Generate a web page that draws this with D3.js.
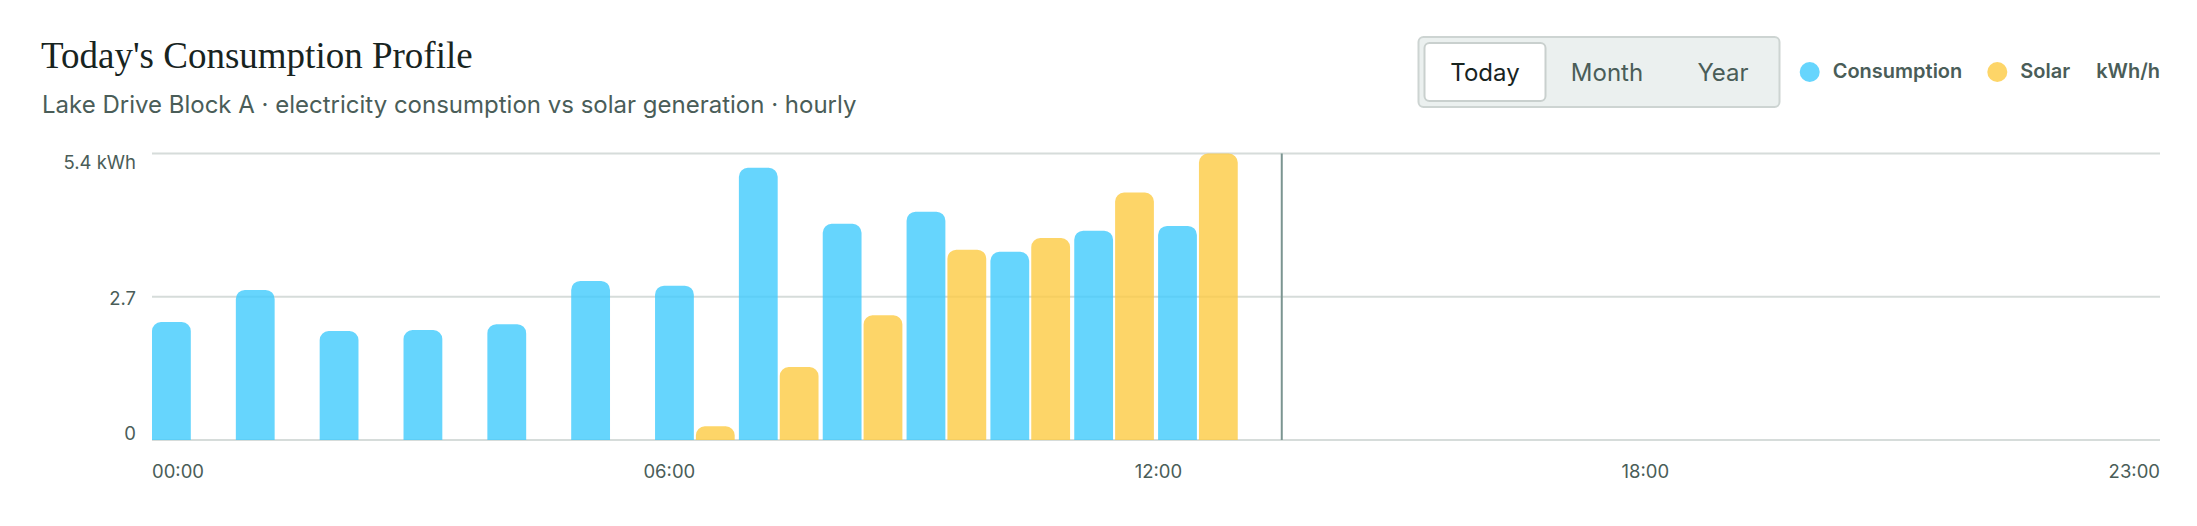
<!DOCTYPE html>
<html>
<head>
<meta charset="utf-8">
<script src="https://cdn.jsdelivr.net/npm/d3@7/dist/d3.min.js"></script>
<style>
  html, body { margin: 0; padding: 0; background: #ffffff; }
  svg { display: block; }
  text { font-family: Inter, "Noto Sans", sans-serif; }
</style>
</head>
<body>
<svg id="chart" width="2197" height="526"></svg>
<script>
// -----------------------------------------------------------------------------

var hours = [
  '00', '01', '02', '03', '04', '05', '06', '07', '08', '09', '10', '11',
  '12', '13', '14', '15', '16', '17', '18', '19', '20', '21', '22', '23'
];
var consumption = [
  2.23, 2.84, 2.06, 2.08, 2.19, 3.01, 2.92, 5.15, 4.09, 4.32, 3.56, 3.96, 4.05
];
var solar = [
  null, null, null, null, null, null, 0.26, 1.38, 2.36, 3.60, 3.82, 4.68, 5.42
];
var nowHour = '13';
var xTickLabels = ['00:00', '06:00', '12:00', '18:00', '23:00'];
var seriesKeys = ['consumption', 'solar'];
var seriesLabels = ['Consumption', 'Solar'];
var unitLabel = 'kWh/h';
var yUnit = 'kWh';
var toggleOptions = ['Today', 'Month', 'Year'];
var activeOption = 'Today';

var titleText = "Today's Consumption Profile";
var subtitleText =
  'Lake Drive Block A \u00b7 electricity consumption vs solar generation \u00b7 hourly';

// -----------------------------------------------------------------------------

var colors = { consumption: '#40cafc', solar: '#fcca42' };
var barOpacity = 0.8;
var textColor = '#4a5d58';
var darkColor = '#18241f';
var gridColor = '#d6dcda';

var plot = { left: 152, right: 2160, top: 153.5, bottom: 440 };

var svg = d3.select('#chart');

// - - - - - - - - - - - - - - - - - - - - - - - - - - - - - - - - - - - - - -

var rows = hours.map(function (h, i) {
  return {
    hour: h,
    consumption: i < consumption.length ? consumption[i] : null,
    solar: i < solar.length ? solar[i] : null
  };
});

var x = d3.scaleBand()
  .domain(hours)
  .range([plot.left, plot.right])
  .paddingInner(0.05)
  .paddingOuter(0);

var xInner = d3.scaleBand()
  .domain(seriesKeys)
  .range([0, x.bandwidth()])
  .paddingInner(0.05);

var yMax = d3.max(consumption.concat(solar));
var y = d3.scaleLinear()
  .domain([0, yMax])
  .range([plot.bottom, plot.top]);

var yTicks = [0, yMax / 2, yMax];

// - - - - - - - - - - - - - - - - - - - - - - - - - - - - - - - - - - - - - -
// header

svg.append('text')
  .attr('x', 41)
  .attr('y', 68)
  .style('font-family', '"Liberation Serif", "DejaVu Serif", serif')
  .style('font-size', '37px')
  .attr('fill', darkColor)
  .text(titleText);

svg.append('text')
  .attr('x', 42)
  .attr('y', 113)
  .style('font-size', '24px')
  .attr('fill', textColor)
  .text(subtitleText);

// - - - - - - - - - - - - - - - - - - - - - - - - - - - - - - - - - - - - - -
// toggle

var gToggle = svg.append('g').attr('class', 'toggle');

gToggle.append('rect')
  .attr('x', 1418.5)
  .attr('y', 37)
  .attr('width', 361)
  .attr('height', 70)
  .attr('rx', 5)
  .attr('fill', '#ebf0ef')
  .attr('stroke', '#cdd4d2')
  .attr('stroke-width', 2);

var toggleCenters = [1485, 1607, 1723];

gToggle.append('rect')
  .attr('x', 1424.5)
  .attr('y', 43)
  .attr('width', 121)
  .attr('height', 58)
  .attr('rx', 5)
  .attr('fill', '#ffffff')
  .attr('stroke', '#c9d0ce')
  .attr('stroke-width', 2);

gToggle.selectAll('text')
  .data(toggleOptions)
  .join('text')
  .attr('x', function (d, i) { return toggleCenters[i]; })
  .attr('y', 81)
  .attr('text-anchor', 'middle')
  .style('font-size', '24px')
  .attr('fill', function (d) { return d === activeOption ? darkColor : textColor; })
  .text(function (d) { return d; });

// - - - - - - - - - - - - - - - - - - - - - - - - - - - - - - - - - - - - - -
// legend, laid out right to left from the plot's right edge

var gLegend = svg.append('g').attr('class', 'legend');

var unitText = gLegend.append('text')
  .attr('x', plot.right)
  .attr('y', 78)
  .attr('text-anchor', 'end')
  .style('font-size', '20px')
  .style('font-weight', 600)
  .attr('fill', textColor)
  .text(unitLabel);

var cursor = plot.right - unitText.node().getComputedTextLength() - 26;
for (var li = seriesKeys.length - 1; li >= 0; li--) {
  var t = gLegend.append('text')
    .attr('x', cursor)
    .attr('y', 78)
    .attr('text-anchor', 'end')
    .style('font-size', '20px')
    .style('font-weight', 600)
    .attr('fill', textColor)
    .text(seriesLabels[li]);
  var start = cursor - t.node().getComputedTextLength();
  gLegend.append('circle')
    .attr('cx', start - 23)
    .attr('cy', 72)
    .attr('r', 10)
    .attr('fill', colors[seriesKeys[li]])
    .attr('fill-opacity', barOpacity);
  cursor = start - 23 - 10 - 25;
}

// - - - - - - - - - - - - - - - - - - - - - - - - - - - - - - - - - - - - - -
// grid

svg.append('g')
  .attr('class', 'grid')
  .selectAll('line')
  .data(yTicks)
  .join('line')
  .attr('x1', plot.left)
  .attr('x2', plot.right)
  .attr('y1', function (d) { return y(d); })
  .attr('y2', function (d) { return y(d); })
  .attr('stroke', gridColor)
  .attr('stroke-width', 2);

// y labels sit in a space-between column
var yLabelTop = y(yMax) + 9.5;
var yLabelBottom = y(0) - 6.5;
svg.append('g')
  .attr('class', 'y-labels')
  .selectAll('text')
  .data(yTicks)
  .join('text')
  .attr('x', 136)
  .attr('y', function (d, i) {
    return yLabelBottom + (yLabelTop - yLabelBottom) * i / (yTicks.length - 1);
  })
  .attr('dy', '0.35em')
  .attr('text-anchor', 'end')
  .style('font-size', '18.5px')
  .attr('fill', textColor)
  .text(function (d, i) {
    if (d === 0) return '0';
    return d3.format('.1f')(d) + (i === yTicks.length - 1 ? ' ' + yUnit : '');
  });

// - - - - - - - - - - - - - - - - - - - - - - - - - - - - - - - - - - - - - -
// bars

function topRoundedBar(bx, by, bw, bh, r) {
  r = Math.min(r, bh, bw / 2);
  return 'M' + bx + ',' + (by + bh)
    + 'V' + (by + r)
    + 'A' + r + ',' + r + ' 0 0 1 ' + (bx + r) + ',' + by
    + 'H' + (bx + bw - r)
    + 'A' + r + ',' + r + ' 0 0 1 ' + (bx + bw) + ',' + (by + r)
    + 'V' + (by + bh)
    + 'Z';
}

var gBars = svg.append('g').attr('class', 'bars');

var gHour = gBars.selectAll('g.hour')
  .data(rows)
  .join('g')
  .attr('class', 'hour')
  .attr('transform', function (d) { return 'translate(' + x(d.hour) + ',0)'; });

gHour.selectAll('path')
  .data(function (d) {
    return seriesKeys
      .map(function (k) { return { key: k, value: d[k] }; })
      .filter(function (e) { return e.value != null && e.value > 0; });
  })
  .join('path')
  .attr('d', function (d) {
    return topRoundedBar(
      xInner(d.key), y(d.value), xInner.bandwidth(), y(0) - y(d.value), 9
    );
  })
  .attr('fill', function (d) { return colors[d.key]; })
  .attr('fill-opacity', barOpacity);

// - - - - - - - - - - - - - - - - - - - - - - - - - - - - - - - - - - - - - -
// now marker

svg.append('line')
  .attr('x1', x(nowHour) + x.bandwidth() / 2)
  .attr('x2', x(nowHour) + x.bandwidth() / 2)
  .attr('y1', plot.top)
  .attr('y2', plot.bottom)
  .attr('stroke', '#7b9591')
  .attr('stroke-width', 2);

// - - - - - - - - - - - - - - - - - - - - - - - - - - - - - - - - - - - - - -
// x labels, spread space-between across the plot width

var xLabels = svg.append('g')
  .attr('class', 'x-labels')
  .selectAll('text')
  .data(xTickLabels)
  .join('text')
  .attr('y', 472)
  .attr('dy', '0.35em')
  .style('font-size', '18.5px')
  .attr('fill', textColor)
  .text(function (d) { return d; });

var widths = [];
xLabels.each(function () { widths.push(this.getComputedTextLength()); });
var gap = (plot.right - plot.left - d3.sum(widths)) / (widths.length - 1);
var pos = plot.left;
xLabels.attr('x', function (d, i) {
  var p = pos;
  pos += widths[i] + gap;
  return p;
});

// -----------------------------------------------------------------------------
</script>
</body>
</html>
